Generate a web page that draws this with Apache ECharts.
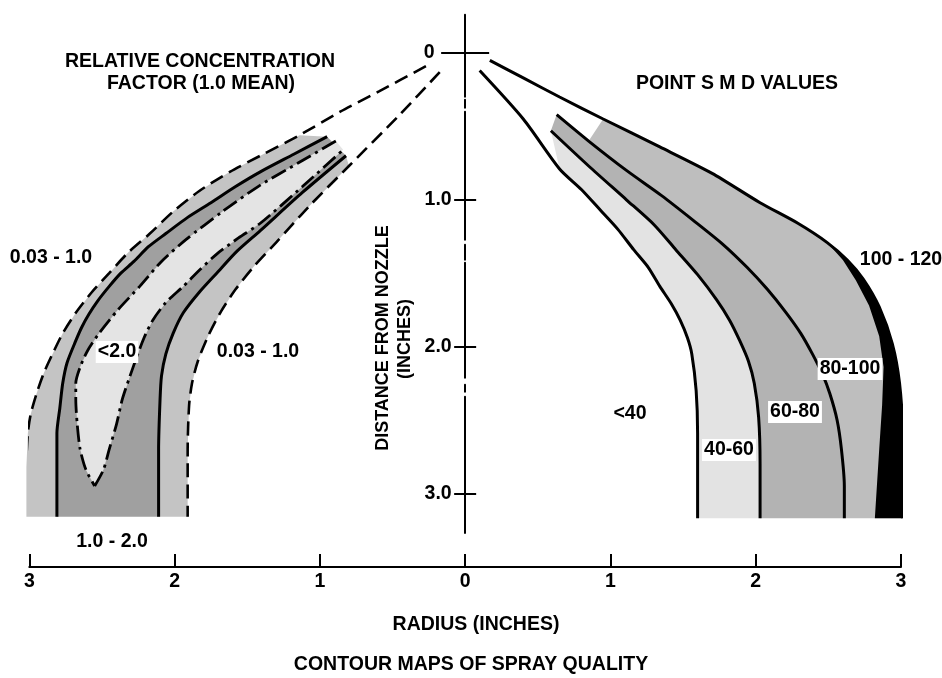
<!DOCTYPE html>
<html><head><meta charset="utf-8">
<script src="https://cdn.jsdelivr.net/npm/echarts@6/dist/echarts.min.js"></script>
<style>html,body{margin:0;padding:0;background:#fff}#c{width:942px;height:678px}</style>
</head><body><div id="c"></div>
<script>
// ---- axis ticks ----
const radiusTicks = [-3, -2, -1, 0, 1, 2, 3];   // left half displayed as absolute radius
const distanceTicks = [0, 1, 2, 3];

// ---- LEFT: relative concentration factor contours  [radius (left = negative), distance] ----
const leftOuterDashed = [[-0.27,0.09],[-0.59,0.26],[-0.86,0.40],[-1.14,0.56],[-1.41,0.70],[-1.62,0.81],[-1.83,0.94],[-2.01,1.08],[-2.17,1.23],[-2.32,1.36],[-2.45,1.50],[-2.57,1.63],[-2.68,1.77],[-2.77,1.91],[-2.84,2.05],[-2.90,2.18],[-2.95,2.32],[-2.99,2.46],[-3.01,2.59],[-3.02,2.82],[-3.02,3.16]];
const leftOuterSolid = [[-0.95,0.57],[-1.18,0.69],[-1.41,0.81],[-1.58,0.91],[-1.75,1.02],[-1.91,1.12],[-2.06,1.23],[-2.18,1.32],[-2.28,1.42],[-2.37,1.50],[-2.45,1.59],[-2.53,1.69],[-2.59,1.78],[-2.64,1.87],[-2.68,1.96],[-2.74,2.11],[-2.77,2.25],[-2.79,2.42],[-2.81,2.59],[-2.81,3.16]];
const leftDashDotOuter = [[-0.89,0.60],[-1.15,0.75],[-1.41,0.90],[-1.67,1.08],[-1.92,1.27],[-2.09,1.42],[-2.24,1.59],[-2.39,1.75],[-2.52,1.91],[-2.60,2.03],[-2.65,2.14],[-2.68,2.25],[-2.68,2.36],[-2.67,2.53],[-2.65,2.70],[-2.61,2.84],[-2.55,2.95]];
const leftDashDotInner = [[-2.55,2.95],[-2.49,2.84],[-2.45,2.70],[-2.40,2.53],[-2.36,2.36],[-2.31,2.21],[-2.26,2.07],[-2.21,1.94],[-2.15,1.82],[-2.06,1.70],[-1.94,1.59],[-1.83,1.48],[-1.71,1.37],[-1.56,1.26],[-1.41,1.16],[-1.12,0.91],[-0.84,0.66]];
const leftInnerSolid = [[-0.82,0.70],[-1.12,0.95],[-1.41,1.21],[-1.57,1.35],[-1.71,1.50],[-1.83,1.63],[-1.94,1.77],[-2.01,1.91],[-2.06,2.05],[-2.09,2.20],[-2.10,2.36],[-2.11,2.70],[-2.11,3.16]];
const leftInnerDashed = [[-0.175,0.13],[-0.45,0.42],[-0.80,0.77],[-1.07,1.04],[-1.30,1.29],[-1.45,1.45],[-1.58,1.61],[-1.68,1.76],[-1.77,1.93],[-1.84,2.10],[-1.88,2.25],[-1.90,2.40],[-1.91,2.70],[-1.91,3.16]];

// ---- RIGHT: point SMD value contours ----
const smdA = [[0.17,0.05],[0.40,0.17],[0.65,0.30],[0.95,0.45],[1.34,0.64],[1.70,0.82],[2.03,1.02],[2.29,1.16],[2.49,1.29],[2.63,1.41],[2.74,1.54],[2.85,1.73],[2.94,1.98],[2.99,2.25],[3.01,2.59],[3.01,3.17]];
const smdBlackEdge = [[2.49,1.29],[2.60,1.41],[2.69,1.55],[2.78,1.72],[2.85,1.93],[2.88,2.14],[2.87,2.40],[2.85,2.70],[2.82,3.17]];
const smdB = [[0.63,0.42],[0.85,0.60],[1.11,0.80],[1.35,0.97],[1.57,1.14],[1.77,1.30],[1.94,1.46],[2.08,1.61],[2.21,1.77],[2.31,1.91],[2.39,2.05],[2.46,2.19],[2.51,2.32],[2.56,2.50],[2.59,2.70],[2.61,2.95],[2.61,3.17]];
const smdC = [[0.59,0.53],[0.85,0.77],[1.11,1.00],[1.30,1.17],[1.45,1.34],[1.60,1.51],[1.73,1.68],[1.82,1.82],[1.89,1.96],[1.95,2.10],[1.99,2.25],[2.02,2.48],[2.03,2.80],[2.03,3.17]];
const smdD = [[0.10,0.12],[0.40,0.45],[0.65,0.79],[0.80,0.93],[0.93,1.07],[1.05,1.20],[1.16,1.34],[1.26,1.46],[1.34,1.59],[1.42,1.71],[1.48,1.82],[1.53,1.94],[1.56,2.05],[1.59,2.30],[1.60,2.59],[1.60,3.17]];

// ---- build fills ----
function band(outer, inner) { return outer.concat(inner.slice().reverse()); }
const fills = [
  { pts: band(leftOuterDashed.filter(p => p[0] <= -1.05), leftOuterSolid), color: '#c4c4c4' },
  { pts: band(leftOuterSolid, leftInnerSolid), color: '#a0a0a0' },
  { pts: band(leftInnerSolid, leftInnerDashed.filter(p => p[0] <= -0.78)), color: '#c4c4c4' },
  { pts: leftDashDotOuter.concat(leftDashDotInner.slice(1)), color: '#e4e4e4' },
  { pts: band(smdA.filter(p => p[0] >= 0.93), smdB.filter(p => p[0] >= 0.8)), color: '#bebebe' },
  { pts: band(smdB, smdC), color: '#b3b3b3' },
  { pts: band(smdC, smdD.filter(p => p[1] >= 0.6)), color: '#e3e3e3' },
  { pts: band(smdA.filter(p => p[1] >= 1.29), smdBlackEdge), color: '#000000' }
];

const dash = [14, 7];
const dashDot = [16, 5, 3, 5];
const lines = [
  { d: leftOuterDashed, type: dash, w: 2.6 },
  { d: leftInnerDashed, type: dash, w: 2.6 },
  { d: leftOuterSolid, type: 'solid', w: 3 },
  { d: leftInnerSolid, type: 'solid', w: 3 },
  { d: leftDashDotOuter, type: dashDot, w: 2.8 },
  { d: leftDashDotInner, type: dashDot, w: 2.8 },
  { d: smdA, type: 'solid', w: 3 },
  { d: smdB, type: 'solid', w: 3 },
  { d: smdC, type: 'solid', w: 3 },
  { d: smdD, type: 'solid', w: 3 }
];

const series = [];
fills.forEach(f => {
  series.push({
    type: 'custom', coordinateSystem: 'cartesian2d', silent: true, z: 1,
    data: f.pts,
    renderItem: (params, api) => {
      if (params.dataIndex !== 0) return null;
      return { type: 'polygon', shape: { points: f.pts.map(p => api.coord(p)) }, style: { fill: f.color } };
    }
  });
});
lines.forEach(l => {
  series.push({
    type: 'line', data: l.d, smooth: 0.25, symbol: 'none', z: 3, silent: true,
    lineStyle: { color: '#000', width: l.w, type: l.type, cap: 'butt' }
  });
});

const F = '"Liberation Sans", Arial, Helvetica, sans-serif';
const fontBig = 'bold 19.5px ' + F;
const fontSide = 'bold 18px ' + F;
function txt(text, x, y, extra, fnt) {
  return { type: 'text', x: x, y: y, z: 20, silent: true,
    style: Object.assign({ text: text, font: fnt || fontBig, fill: '#000', align: 'center', verticalAlign: 'middle' }, extra || {}) };
}
function txtR(text, x, y, rot) {
  return { type: 'text', x: x, y: y, rotation: rot, z: 20, silent: true,
    style: { text: text, font: fontSide, fill: '#000', align: 'center', verticalAlign: 'middle' } };
}
const whiteBg = { backgroundColor: '#fff', padding: [1, 2] };

const yBase = {
  type: 'value', inverse: true, min: -0.26, max: 3.27, position: 'left',
  splitLine: { show: false }, axisLabel: { show: false }
};
const tickStyle = { color: '#000', width: 2 };
const labelStyle = { color: '#000', fontSize: 19.5, fontWeight: 'bold', fontFamily: F };

const option = {
  animation: false,
  backgroundColor: '#fff',
  grid: { left: 29.3, right: 41, top: 14.8, bottom: 145, outerBoundsMode: 'none', containLabel: false },
  xAxis: {
    type: 'value', min: -3, max: 3, interval: 1, position: 'bottom', offset: 34,
    axisLine: { onZero: false, lineStyle: { color: '#000', width: 2 } },
    axisTick: { inside: true, length: 13, lineStyle: tickStyle },
    axisLabel: Object.assign({ margin: 5, formatter: v => String(Math.abs(v)) }, labelStyle),
    splitLine: { show: false }
  },
  yAxis: [
    Object.assign({}, yBase, {
      axisLine: { show: true, onZero: true, onZeroAxisIndex: 0, lineStyle: { color: '#000', width: 2, type: [82, 3, 8, 4, 128, 5, 15, 3, 115, 7, 7, 5, 200, 1] } },
      axisTick: { show: true, inside: false, length: 11, lineStyle: tickStyle, customValues: distanceTicks.slice(1) }
    }),
    Object.assign({}, yBase, {
      axisLine: { show: false, onZero: true, onZeroAxisIndex: 0 },
      axisTick: { show: true, inside: true, length: 11, lineStyle: tickStyle, customValues: distanceTicks.slice(1) }
    }),
    Object.assign({}, yBase, {
      axisLine: { show: false, onZero: true, onZeroAxisIndex: 0 },
      axisTick: { show: true, inside: false, length: 24, lineStyle: tickStyle, customValues: distanceTicks.slice(0, 1) }
    }),
    Object.assign({}, yBase, {
      axisLine: { show: false, onZero: true, onZeroAxisIndex: 0 },
      axisTick: { show: true, inside: true, length: 24, lineStyle: tickStyle, customValues: distanceTicks.slice(0, 1) }
    })
  ],
  series: series
};
const chart = echarts.init(document.getElementById('c'), null, { renderer: 'canvas' });
chart.setOption(option);

// distance tick labels placed from the axis scale
const yLabels = distanceTicks.map(v => {
  const p = chart.convertToPixel({ xAxisIndex: 0, yAxisIndex: 0 }, [0, v]);
  const gap = v === 0 ? 30.5 : 13.5;
  return txt(v === 0 ? '0' : v.toFixed(1), p[0] - gap, p[1], { align: 'right' });
});

chart.setOption({
  graphic: yLabels.concat([
    txt('RELATIVE CONCENTRATION', 200, 62),
    txt('FACTOR (1.0 MEAN)', 201, 84),
    txt('POINT S M D VALUES', 737, 84),
    txt('0.03 - 1.0', 51, 258),
    txt('<2.0', 117, 352, whiteBg),
    txt('0.03 - 1.0', 258, 352),
    txt('1.0 - 2.0', 112, 542),
    txt('<40', 630, 414),
    txt('40-60', 729, 450, whiteBg),
    txt('60-80', 795, 412, whiteBg),
    txt('80-100', 850, 369, whiteBg),
    txt('100 - 120', 901, 260),
    txt('RADIUS (INCHES)', 476, 625),
    txt('CONTOUR MAPS OF SPRAY QUALITY', 471, 665),
    txtR('DISTANCE FROM NOZZLE', 383, 338, Math.PI / 2),
    txtR('(INCHES)', 405, 339, Math.PI / 2)
  ])
});
</script>
</body></html>
